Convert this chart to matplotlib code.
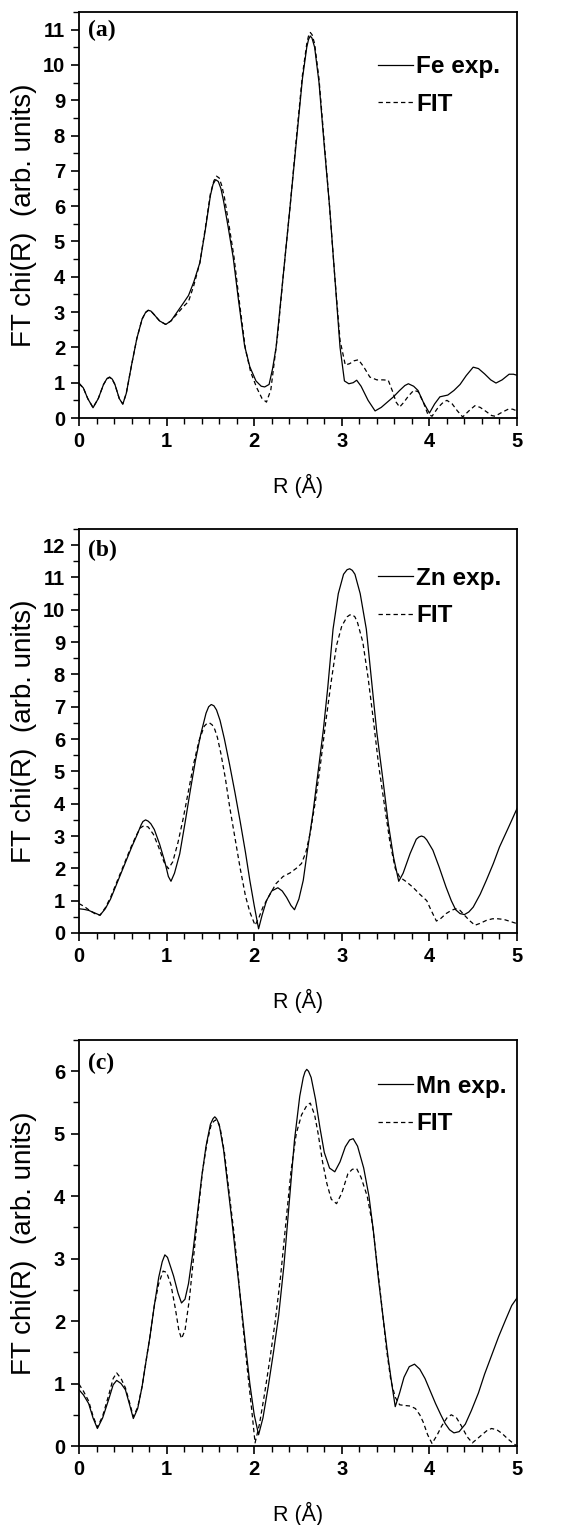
import matplotlib
matplotlib.use("Agg")
import matplotlib.pyplot as plt
from matplotlib.ticker import MultipleLocator

plt.rcParams['font.family'] = ['Liberation Sans', 'DejaVu Sans']

# ---- Fe K-edge: experiment and fit -----------------------------------------
fe_exp_r = [0.00, 0.05, 0.10, 0.16, 0.22, 0.28, 0.32, 0.35, 0.38, 0.41, 0.46, 0.50,
            0.54, 0.60, 0.66, 0.72, 0.76, 0.79, 0.82, 0.85, 0.92, 0.99, 1.05, 1.12,
            1.19, 1.25, 1.31, 1.38, 1.44, 1.50, 1.53, 1.56, 1.59, 1.62, 1.65, 1.70,
            1.76, 1.82, 1.89, 1.95, 2.02, 2.08, 2.12, 2.17, 2.21, 2.25, 2.33, 2.41,
            2.48, 2.55, 2.60, 2.62, 2.64, 2.66, 2.69, 2.74, 2.80, 2.86, 2.92, 2.98,
            3.03, 3.08, 3.13, 3.17, 3.22, 3.30, 3.38, 3.45, 3.52, 3.59, 3.66, 3.72,
            3.76, 3.82, 3.87, 3.93, 4.00, 4.06, 4.12, 4.21, 4.28, 4.35, 4.42, 4.50,
            4.56, 4.63, 4.70, 4.76, 4.83, 4.91, 4.96, 5.00]
fe_exp_y = [0.99, 0.85, 0.55, 0.29, 0.55, 0.95, 1.12, 1.16, 1.10, 0.95, 0.55, 0.39,
            0.70, 1.50, 2.25, 2.80, 2.99, 3.05, 3.03, 2.95, 2.75, 2.65, 2.75, 3.00,
            3.25, 3.47, 3.85, 4.40, 5.30, 6.30, 6.62, 6.75, 6.70, 6.50, 6.15, 5.45,
            4.55, 3.35, 2.05, 1.45, 1.05, 0.90, 0.88, 0.95, 1.40, 2.00, 4.00, 6.00,
            7.80, 9.60, 10.50, 10.72, 10.82, 10.76, 10.50, 9.50, 7.70, 6.00, 4.00, 2.00,
            1.05, 0.97, 1.00, 1.07, 0.90, 0.50, 0.20, 0.30, 0.45, 0.60, 0.78, 0.92,
            0.97, 0.90, 0.78, 0.45, 0.14, 0.40, 0.60, 0.65, 0.78, 0.95, 1.20, 1.44,
            1.40, 1.25, 1.08, 0.99, 1.08, 1.24, 1.24, 1.21]

fe_fit_r = [0.00, 0.05, 0.10, 0.16, 0.22, 0.28, 0.32, 0.35, 0.38, 0.41, 0.46, 0.50,
            0.54, 0.60, 0.66, 0.72, 0.76, 0.79, 0.82, 0.85, 0.92, 0.99, 1.05, 1.12,
            1.19, 1.25, 1.31, 1.38, 1.44, 1.50, 1.54, 1.57, 1.60, 1.63, 1.66, 1.71,
            1.77, 1.83, 1.90, 1.96, 2.03, 2.09, 2.14, 2.19, 2.23, 2.27, 2.33, 2.41,
            2.48, 2.55, 2.60, 2.62, 2.64, 2.66, 2.69, 2.74, 2.80, 2.86, 2.92, 2.98,
            3.04, 3.09, 3.14, 3.19, 3.25, 3.32, 3.40, 3.47, 3.53, 3.58, 3.62, 3.66,
            3.71, 3.76, 3.82, 3.87, 3.93, 3.98, 4.03, 4.10, 4.16, 4.20, 4.26, 4.32,
            4.38, 4.45, 4.52, 4.58, 4.65, 4.71, 4.75, 4.82, 4.90, 4.95, 5.00]
fe_fit_y = [0.97, 0.85, 0.55, 0.30, 0.55, 0.95, 1.11, 1.15, 1.09, 0.95, 0.55, 0.40,
            0.70, 1.50, 2.25, 2.80, 2.99, 3.05, 3.03, 2.95, 2.75, 2.65, 2.75, 2.95,
            3.15, 3.30, 3.75, 4.40, 5.35, 6.35, 6.72, 6.85, 6.80, 6.58, 6.25, 5.50,
            4.55, 3.30, 1.95, 1.30, 0.85, 0.55, 0.45, 0.80, 1.60, 2.40, 4.00, 6.00,
            7.90, 9.70, 10.60, 10.82, 10.92, 10.86, 10.60, 9.60, 7.80, 6.00, 4.00, 2.20,
            1.50, 1.54, 1.62, 1.65, 1.45, 1.16, 1.08, 1.08, 1.07, 0.75, 0.45, 0.31,
            0.45, 0.62, 0.78, 0.75, 0.45, 0.12, 0.05, 0.30, 0.45, 0.50, 0.40, 0.20,
            0.03, 0.20, 0.35, 0.30, 0.18, 0.07, 0.05, 0.15, 0.25, 0.25, 0.20]

# ---- Zn K-edge -------------------------------------------------------------
zn_exp_r = [0.00, 0.06, 0.11, 0.18, 0.24, 0.30, 0.36, 0.42, 0.48, 0.54, 0.60, 0.66,
            0.71, 0.73, 0.76, 0.79, 0.82, 0.86, 0.92, 0.98, 1.02, 1.05, 1.09, 1.15,
            1.21, 1.27, 1.33, 1.39, 1.45, 1.48, 1.51, 1.54, 1.57, 1.61, 1.66, 1.72,
            1.78, 1.84, 1.90, 1.95, 2.00, 2.05, 2.09, 2.14, 2.20, 2.27, 2.32, 2.37,
            2.42, 2.46, 2.51, 2.56, 2.61, 2.67, 2.73, 2.79, 2.84, 2.90, 2.96, 3.02,
            3.06, 3.09, 3.12, 3.15, 3.21, 3.28, 3.34, 3.40, 3.47, 3.53, 3.59, 3.65,
            3.70, 3.78, 3.85, 3.88, 3.91, 3.94, 3.97, 4.04, 4.11, 4.19, 4.25, 4.30,
            4.35, 4.40, 4.45, 4.50, 4.58, 4.65, 4.73, 4.80, 4.90, 5.00]
zn_exp_y = [0.75, 0.73, 0.70, 0.62, 0.55, 0.75, 1.05, 1.45, 1.85, 2.25, 2.65, 3.02,
            3.35, 3.45, 3.50, 3.46, 3.38, 3.20, 2.75, 2.20, 1.75, 1.60, 1.85, 2.45,
            3.40, 4.40, 5.35, 6.15, 6.80, 7.00, 7.07, 7.03, 6.90, 6.58, 6.00, 5.20,
            4.35, 3.45, 2.50, 1.63, 0.85, 0.13, 0.55, 1.00, 1.30, 1.40, 1.30, 1.10,
            0.85, 0.72, 1.05, 1.63, 2.60, 3.70, 5.00, 6.30, 7.60, 9.40, 10.50, 11.10,
            11.24, 11.27, 11.22, 11.10, 10.50, 9.40, 7.80, 6.20, 4.73, 3.40, 2.35, 1.60,
            1.85, 2.46, 2.90, 2.97, 3.00, 2.97, 2.88, 2.56, 2.05, 1.42, 1.00, 0.72,
            0.60, 0.57, 0.65, 0.80, 1.20, 1.63, 2.15, 2.66, 3.25, 3.85]

zn_fit_r = [0.00, 0.06, 0.12, 0.18, 0.24, 0.30, 0.36, 0.42, 0.48, 0.54, 0.60, 0.66,
            0.70, 0.74, 0.79, 0.85, 0.91, 0.97, 1.02, 1.07, 1.13, 1.19, 1.25, 1.31,
            1.37, 1.43, 1.46, 1.49, 1.52, 1.55, 1.58, 1.62, 1.67, 1.72, 1.78, 1.84,
            1.90, 1.95, 2.01, 2.05, 2.10, 2.17, 2.25, 2.33, 2.41, 2.48, 2.54, 2.59,
            2.64, 2.70, 2.76, 2.82, 2.88, 2.94, 3.00, 3.06, 3.09, 3.12, 3.15, 3.18,
            3.24, 3.30, 3.36, 3.42, 3.49, 3.55, 3.61, 3.66, 3.73, 3.81, 3.89, 3.97,
            4.02, 4.08, 4.13, 4.19, 4.25, 4.30, 4.35, 4.40, 4.46, 4.52, 4.58, 4.65,
            4.72, 4.78, 4.85, 4.92, 5.00]
zn_fit_y = [0.91, 0.82, 0.70, 0.60, 0.55, 0.78, 1.10, 1.50, 1.90, 2.30, 2.70, 3.05,
            3.25, 3.32, 3.28, 3.05, 2.65, 2.20, 1.99, 2.20, 2.80, 3.55, 4.40, 5.25,
            5.95, 6.40, 6.48, 6.50, 6.44, 6.30, 6.05, 5.55, 4.80, 3.90, 2.95, 2.00,
            1.15, 0.65, 0.24, 0.45, 0.80, 1.15, 1.53, 1.75, 1.86, 2.00, 2.15, 2.50,
            3.10, 4.10, 5.30, 6.60, 7.80, 8.90, 9.50, 9.78, 9.84, 9.85, 9.78, 9.60,
            9.00, 7.90, 6.60, 5.20, 3.90, 2.80, 2.00, 1.73, 1.60, 1.42, 1.20, 1.00,
            0.70, 0.37, 0.45, 0.60, 0.70, 0.75, 0.70, 0.55, 0.38, 0.24, 0.30, 0.39,
            0.44, 0.44, 0.42, 0.36, 0.29]

# ---- Mn K-edge -------------------------------------------------------------
mn_exp_r = [0.00, 0.05, 0.11, 0.16, 0.21, 0.27, 0.34, 0.39, 0.43, 0.48, 0.53, 0.58,
            0.62, 0.67, 0.72, 0.77, 0.81, 0.86, 0.91, 0.95, 0.98, 1.01, 1.05, 1.08,
            1.13, 1.17, 1.21, 1.25, 1.30, 1.35, 1.40, 1.45, 1.50, 1.53, 1.55, 1.57,
            1.60, 1.65, 1.70, 1.75, 1.80, 1.86, 1.91, 1.95, 2.00, 2.05, 2.10, 2.16,
            2.22, 2.28, 2.34, 2.40, 2.46, 2.52, 2.56, 2.58, 2.60, 2.62, 2.65, 2.70,
            2.75, 2.80, 2.86, 2.92, 2.98, 3.04, 3.09, 3.13, 3.18, 3.25, 3.31, 3.36,
            3.42, 3.48, 3.53, 3.57, 3.61, 3.66, 3.71, 3.77, 3.83, 3.89, 3.95, 4.01,
            4.07, 4.13, 4.18, 4.23, 4.28, 4.34, 4.41, 4.48, 4.56, 4.63, 4.71, 4.79,
            4.87, 4.94, 5.00]
mn_exp_y = [0.90, 0.82, 0.68, 0.45, 0.28, 0.45, 0.75, 0.98, 1.05, 1.00, 0.90, 0.65,
            0.44, 0.60, 0.95, 1.40, 1.75, 2.25, 2.70, 2.95, 3.06, 3.02, 2.85, 2.72,
            2.45, 2.29, 2.35, 2.60, 3.10, 3.70, 4.30, 4.80, 5.15, 5.24, 5.27, 5.24,
            5.15, 4.75, 4.15, 3.55, 2.90, 2.15, 1.50, 1.00, 0.50, 0.18, 0.45, 0.95,
            1.50, 2.10, 2.90, 3.90, 4.90, 5.60, 5.90, 5.99, 6.03, 6.00, 5.90, 5.55,
            5.10, 4.70, 4.45, 4.39, 4.55, 4.79, 4.90, 4.92, 4.80, 4.45, 4.00, 3.45,
            2.65, 1.96, 1.40, 1.00, 0.63, 0.85, 1.10, 1.27, 1.31, 1.23, 1.08, 0.88,
            0.68, 0.50, 0.36, 0.26, 0.21, 0.23, 0.35, 0.57, 0.85, 1.15, 1.45, 1.75,
            2.02, 2.25, 2.37]

mn_fit_r = [0.00, 0.05, 0.11, 0.16, 0.21, 0.27, 0.34, 0.39, 0.43, 0.48, 0.53, 0.58,
            0.62, 0.67, 0.72, 0.77, 0.81, 0.86, 0.91, 0.96, 1.00, 1.05, 1.10, 1.14,
            1.17, 1.21, 1.26, 1.31, 1.36, 1.41, 1.46, 1.51, 1.54, 1.56, 1.58, 1.61,
            1.66, 1.71, 1.77, 1.82, 1.87, 1.92, 1.97, 2.01, 2.06, 2.12, 2.18, 2.24,
            2.30, 2.36, 2.42, 2.48, 2.54, 2.60, 2.64, 2.69, 2.73, 2.78, 2.83, 2.88,
            2.94, 3.00, 3.07, 3.12, 3.17, 3.22, 3.29, 3.35, 3.40, 3.46, 3.51, 3.56,
            3.61, 3.66, 3.71, 3.78, 3.84, 3.89, 3.93, 3.98, 4.03, 4.09, 4.14, 4.20,
            4.25, 4.31, 4.37, 4.43, 4.49, 4.55, 4.60, 4.66, 4.71, 4.77, 4.83, 4.89,
            4.95, 5.00]
mn_fit_y = [0.99, 0.88, 0.72, 0.48, 0.30, 0.48, 0.82, 1.08, 1.17, 1.08, 0.93, 0.68,
            0.47, 0.62, 0.95, 1.40, 1.75, 2.25, 2.60, 2.80, 2.78, 2.58, 2.20, 1.85,
            1.72, 1.85, 2.35, 3.05, 3.75, 4.40, 4.85, 5.15, 5.20, 5.22, 5.20, 5.10,
            4.70, 4.10, 3.40, 2.70, 1.95, 1.25, 0.60, 0.05, 0.35, 0.85, 1.40, 2.00,
            2.70, 3.55, 4.40, 5.00, 5.30, 5.45, 5.49, 5.30, 5.00, 4.55, 4.20, 3.95,
            3.88, 4.05, 4.36, 4.43, 4.44, 4.30, 4.00, 3.55, 2.95, 2.20, 1.55, 1.05,
            0.78, 0.66, 0.65, 0.64, 0.60, 0.50, 0.38, 0.18, 0.04, 0.18, 0.32, 0.45,
            0.50, 0.45, 0.31, 0.15, 0.05, 0.12, 0.18, 0.25, 0.28, 0.26, 0.20, 0.12,
            0.05, 0.00]

panel_tags = ['(a)', '(b)', '(c)']
exp_labels = ['Fe exp.', 'Zn exp.', 'Mn exp.']
fit_label = 'FIT'
y_tops = [11.5, 12.5, 6.5]
y_max_ticks = [11, 12, 6]
x_label = 'R (Å)'
y_label = 'FT chi(R)  (arb. units)'

series = [(fe_exp_r, fe_exp_y, fe_fit_r, fe_fit_y),
          (zn_exp_r, zn_exp_y, zn_fit_r, zn_fit_y),
          (mn_exp_r, mn_exp_y, mn_fit_r, mn_fit_y)]

W, H = 574, 1525
fig = plt.figure(figsize=(W / 100, H / 100), dpi=100)

# axes boxes in pixel units: (left, top, right, bottom)
boxes = [(79, 12, 517, 418), (79, 529, 517, 933), (79, 1040, 517, 1446)]
legend_tops = [0.893, 0.906, 0.914]
tag_y = [0.955, 0.948, 0.943]

for i, (er, ey, fr, fy) in enumerate(series):
    l, t, r, b = boxes[i]
    ax = fig.add_axes([l / W, (H - b) / H, (r - l) / W, (b - t) / H])
    ax.plot(er, ey, color='black', lw=0.9, label=exp_labels[i])
    ax.plot(fr, fy, color='black', lw=0.9, ls=(0, (3.5, 2.5)), label=fit_label)

    ax.set_xlim(0, 5)
    ax.set_ylim(0, y_tops[i])
    ax.xaxis.set_major_locator(MultipleLocator(1))
    ax.xaxis.set_minor_locator(MultipleLocator(0.2))
    ax.yaxis.set_minor_locator(MultipleLocator(0.5))
    ax.set_yticks(range(0, y_max_ticks[i] + 1))
    ax.tick_params(which='major', direction='out', length=6, width=1.2,
                   labelsize=14.5, pad=4, top=False, right=False)
    ax.tick_params(which='minor', direction='out', length=4, width=1.0,
                   top=False, right=False)
    for lab in ax.get_xticklabels() + ax.get_yticklabels():
        lab.set_fontweight('bold')
    for sp in ax.spines.values():
        sp.set_linewidth(1.3)

    ax.set_xlabel(x_label, fontsize=15.5)
    ax.xaxis.set_label_coords(0.5, -0.138)
    ax.set_ylabel(y_label, fontsize=20)
    ax.yaxis.set_label_coords(-0.097, 0.5)

    ax.text(0.02, tag_y[i], panel_tags[i], transform=ax.transAxes,
            fontsize=17, fontweight='bold', va='center', ha='left',
            family=['Liberation Serif', 'DejaVu Serif'])

    leg = ax.legend(loc='upper left', bbox_to_anchor=(0.683, legend_tops[i]),
                    frameon=False, handlelength=1.45, handletextpad=0.12,
                    labelspacing=0.58, borderpad=0, borderaxespad=0,
                    prop={'size': 17.5, 'weight': 'bold'})
    for h in leg.get_lines():
        h.set_linewidth(0.9)

fig.savefig('out.png', dpi=100)
